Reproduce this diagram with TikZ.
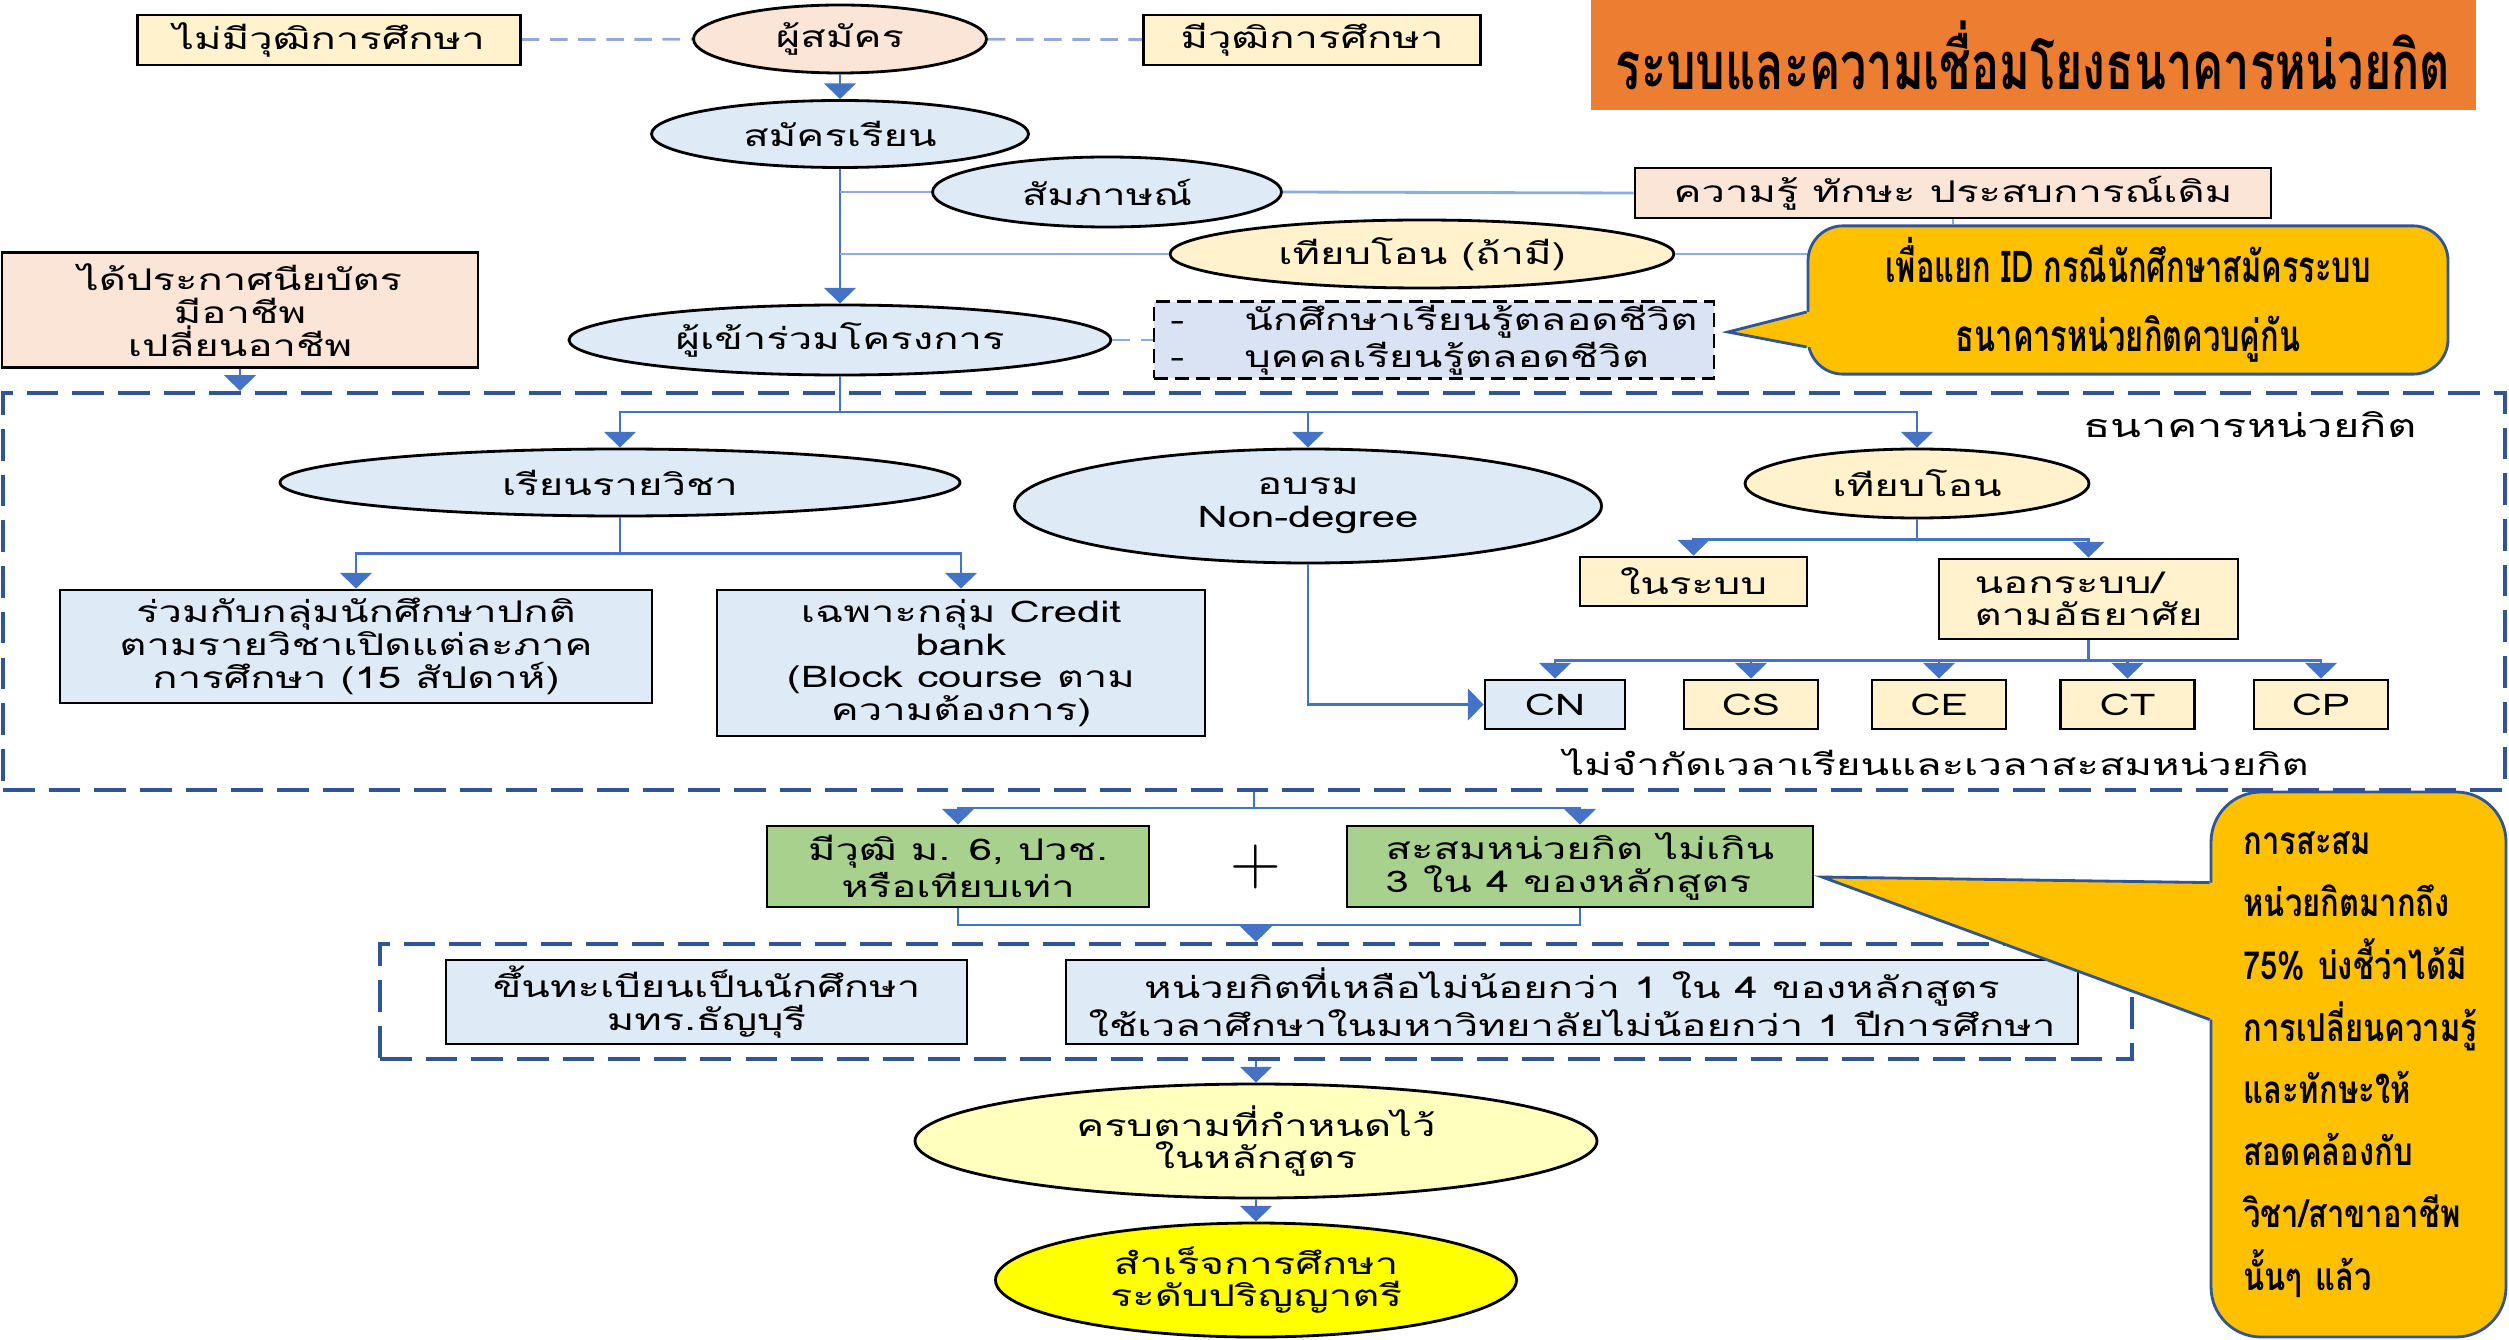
\documentclass[tikz,border=0pt]{standalone}
\usepackage{fontspec}
\setmainfont{Loma}[Script=Thai]
\newfontfamily\bodyfont{Loma}[Script=Thai, FakeStretch=1.4]
\newfontfamily\condfont{Loma}[Script=Thai, FakeStretch=0.7]
\newfontfamily\notefont{Loma}[Script=Thai, FakeStretch=0.8]
\newfontfamily\plusfont{Latin Modern Roman}
\usepackage{xcolor}
\usepackage{tikz}
\usetikzlibrary{shapes.geometric, arrows.meta, positioning}
\definecolor{boxyellow}{RGB}{255, 242, 204}
\definecolor{boxpeach}{RGB}{251, 229, 214}
\definecolor{boxblue}{RGB}{222, 235, 247}
\definecolor{boxlilac}{RGB}{218, 227, 243}
\definecolor{boxgreen}{RGB}{169, 209, 142}
\definecolor{titleorange}{RGB}{237, 125, 49}
\definecolor{noteyellow}{RGB}{255, 192, 0}
\definecolor{noteedge}{RGB}{47, 85, 151}
\definecolor{linkblue}{RGB}{68, 114, 196}
\definecolor{linklight}{RGB}{143, 170, 220}
\definecolor{framedash}{RGB}{47, 85, 151}
\definecolor{paleyellow}{RGB}{255, 255, 190}
\definecolor{brightyellow}{RGB}{255, 255, 0}
\newcommand{\bodytext}{\bodyfont\fontsize{8.5}{9.3}\selectfont}
\newcommand{\titletext}{\condfont\bfseries\fontsize{19}{22}\selectfont}
\newcommand{\calltext}{\condfont\bfseries\fontsize{12.5}{19.6}\selectfont}
\newcommand{\sidetext}{\notefont\bfseries\fontsize{11}{17.7}\selectfont}

\begin{document}
\begin{tikzpicture}[
    box/.style={rectangle, draw=black, thick, align=center, inner sep=1pt, font=\bodytext},
    oval/.style={ellipse, draw=black, thick, align=center, inner sep=0pt, font=\bodytext},
    arrow/.style={-{Triangle[width=9pt,length=4.5pt]}, thick, linkblue},
    link/.style={thick, linklight},
    dashlink/.style={thick, linklight, dash pattern=on 5pt off 3pt},
    frame/.style={draw=framedash, very thick, dash pattern=on 9pt off 4pt},
    note/.style={rectangle, rounded corners=0.35cm, draw=noteedge, thick, fill=noteyellow}
]
    \useasboundingbox (0,0) rectangle (25.09,-13.40);

    % Applicants
    \node[box, fill=boxyellow, minimum width=3.83cm, minimum height=0.50cm] (nodip) at (3.29,-0.40) {ไม่มีวุฒิการศึกษา};
    \node[oval, fill=boxpeach, minimum width=2.93cm, minimum height=0.68cm] (applicant) at (8.40,-0.39) {ผู้สมัคร};
    \node[box, fill=boxyellow, minimum width=3.37cm, minimum height=0.50cm] (hasdip) at (13.12,-0.40) {มีวุฒิการศึกษา};
    \node[fill=titleorange, minimum width=8.85cm, minimum height=1.10cm, font=\titletext] (title) at (20.33,-0.55) {ระบบและความเชื่อมโยงธนาคารหน่วยกิต};

    \node[oval, fill=boxblue, minimum width=3.77cm, minimum height=0.67cm] (enroll) at (8.40,-1.34) {สมัครเรียน};
    \node[oval, fill=boxblue, minimum width=3.49cm, minimum height=0.70cm] (interview) at (11.07,-1.92) {สัมภาษณ์};
    \node[box, fill=boxpeach, minimum width=6.36cm, minimum height=0.50cm] (prior) at (19.53,-1.93) {ความรู้ ทักษะ ประสบการณ์เดิม};
    \node[oval, fill=boxyellow, minimum width=5.04cm, minimum height=0.68cm] (transferif) at (14.22,-2.54) {เทียบโอน (ถ้ามี)};
    \node[oval, fill=boxblue, minimum width=5.42cm, minimum height=0.70cm] (participant) at (8.40,-3.40) {ผู้เข้าร่วมโครงการ};
    \node[box, dash pattern=on 4pt off 2pt, fill=boxlilac, minimum width=5.60cm, minimum height=0.75cm, align=left] (lifelong) at (14.34,-3.40) {-\hspace{0.6cm}นักศึกษาเรียนรู้ตลอดชีวิต\\-\hspace{0.6cm}บุคคลเรียนรู้ตลอดชีวิต};
    \node[box, fill=boxpeach, minimum width=4.76cm, minimum height=1.15cm] (cert) at (2.40,-3.10) {ได้ประกาศนียบัตร\\มีอาชีพ\\เปลี่ยนอาชีพ};

    % Credit bank
    \node[frame, minimum width=25.02cm, minimum height=3.97cm] (bank) at (12.54,-5.915) {};
    \node[font=\bodyfont\fontsize{9.2}{10}\selectfont, anchor=east] (banklabel) at (24.29,-4.25) {ธนาคารหน่วยกิต};
    \node[oval, fill=boxblue, minimum width=6.80cm, minimum height=0.67cm] (course) at (6.20,-4.825) {เรียนรายวิชา};
    \node[oval, fill=boxblue, minimum width=5.87cm, minimum height=1.14cm] (train) at (13.08,-5.06) {อบรม\\Non-degree};
    \node[oval, fill=boxyellow, minimum width=3.44cm, minimum height=0.69cm] (transfer) at (19.17,-4.835) {เทียบโอน};
    \node[box, fill=boxblue, minimum width=5.92cm, minimum height=1.13cm] (regular) at (3.56,-6.465) {ร่วมกับกลุ่มนักศึกษาปกติ\\ตามรายวิชาเปิดแต่ละภาค\\การศึกษา (15 สัปดาห์)};
    \node[box, fill=boxblue, minimum width=4.88cm, minimum height=1.46cm] (block) at (9.61,-6.63) {เฉพาะกลุ่ม Credit\\bank\\(Block course ตาม\\ความต้องการ)};
    \node[box, fill=boxyellow, minimum width=2.27cm, minimum height=0.49cm] (insys) at (16.935,-5.815) {ในระบบ};
    \node[box, fill=boxyellow, minimum width=2.99cm, minimum height=0.80cm, align=left] (outsys) at (20.885,-5.99) {นอกระบบ/\\ตามอัธยาศัย};
    \node[box, fill=boxblue, minimum width=1.40cm, minimum height=0.49cm] (cn) at (15.55,-7.045) {CN};
    \foreach \name/\label/\x in {cs/CS/17.51, ce/CE/19.39, ct/CT/21.275, cp/CP/23.21}
        \node[box, fill=boxyellow, minimum width=1.34cm, minimum height=0.49cm] (\name) at (\x,-7.045) {\label};
    \node[font=\bodytext] (nolimit) at (19.36,-7.62) {ไม่จำกัดเวลาเรียนและเวลาสะสมหน่วยกิต};

    % Graduation
    \node[box, fill=boxgreen, minimum width=3.82cm, minimum height=0.81cm] (qual) at (9.58,-8.665) {มีวุฒิ ม. 6, ปวช.\\หรือเทียบเท่า};
    \node[font=\plusfont\fontsize{20}{20}\selectfont] (plus) at (12.56,-8.67) {+};
    \node[box, fill=boxgreen, minimum width=4.66cm, minimum height=0.81cm, align=left] (accum) at (15.80,-8.665) {สะสมหน่วยกิต ไม่เกิน\\3 ใน 4 ของหลักสูตร};
    \node[frame, minimum width=17.52cm, minimum height=1.15cm] (study) at (12.56,-10.015) {};
    \node[box, fill=boxblue, minimum width=5.21cm, minimum height=0.84cm] (register) at (7.065,-10.02) {ขึ้นทะเบียนเป็นนักศึกษา\\มทร.ธัญบุรี};
    \node[box, fill=boxblue, minimum width=10.12cm, minimum height=0.84cm] (remain) at (15.72,-10.02) {หน่วยกิตที่เหลือไม่น้อยกว่า 1 ใน 4 ของหลักสูตร\\ใช้เวลาศึกษาในมหาวิทยาลัยไม่น้อยกว่า 1 ปีการศึกษา};
    \node[oval, fill=paleyellow, minimum width=6.82cm, minimum height=1.14cm] (complete) at (12.56,-11.41) {ครบตามที่กำหนดไว้\\ในหลักสูตร};
    \node[oval, fill=brightyellow, minimum width=5.21cm, minimum height=1.14cm] (grad) at (12.56,-12.80) {สำเร็จการศึกษา\\ระดับปริญญาตรี};

    % Connectors
    \draw[dashlink] (nodip) -- (applicant);
    \draw[dashlink] (applicant) -- (hasdip);
    \draw[arrow] (applicant) -- (enroll);
    \draw[arrow] (enroll) -- (participant);
    \coordinate (tap1) at (enroll.south |- interview.west);
    \coordinate (tap2) at (enroll.south |- transferif.west);
    \draw[link] (tap1) -- (interview.west);
    \draw[link] (interview.east) -- (prior.west);
    \draw[link] (tap2) -- (transferif.west);
    \draw[dashlink] (participant) -- (lifelong);
    \draw[arrow] (cert.south) -- (cert.south |- bank.north);

    \coordinate (split1) at (8.40,-4.12);
    \draw[linkblue, thick] (participant.south) -- (split1);
    \draw[arrow] (split1) -| (course.north);
    \draw[arrow] (split1) -| (train.north);
    \draw[arrow] (split1) -| (transfer.north);
    \coordinate (split2) at ([yshift=-0.36cm]course.south);
    \draw[arrow] (course.south) -- (split2) -| (regular.north);
    \draw[arrow] (split2) -| (block.north);
    \draw[arrow] (train.south) |- (cn.west);
    \coordinate (split3) at ([yshift=-0.20cm]transfer.south);
    \draw[arrow] (transfer.south) -- (split3) -| (insys.north);
    \draw[arrow] (split3) -| (outsys.north);
    \coordinate (split4) at ([yshift=-0.20cm]outsys.south);
    \draw[arrow] (outsys.south) -- (split4) -| (cn.north);
    \foreach \name in {cs, ce, ct, cp}
        \draw[arrow] (split4) -| (\name.north);

    \coordinate (split5) at (12.54,-8.08);
    \draw[arrow] (split5 |- bank.south) -- (split5) -| (qual.north);
    \draw[arrow] (split5) -| (accum.north);
    \coordinate (join1) at (12.56,-9.25);
    \draw[linkblue, thick] (qual.south) |- (join1);
    \draw[linkblue, thick] (accum.south) |- (join1);
    \draw[arrow] (join1) -- (study.north);
    \draw[arrow] (study.south) -- (complete.north);
    \draw[arrow] (complete.south) -- (grad.north);

    % Callouts
    \node[note, minimum width=6.40cm, minimum height=1.40cm, align=center, font=\calltext] (note1) at (21.28,-3.00) {เพื่อแยก ID กรณีนักศึกษาสมัครระบบ\\ธนาคารหน่วยกิตควบคู่กัน};
    \draw[link] (prior.south) -- (prior.south |- note1.north);
    \draw[link] (transferif.east) -- (transferif.east -| note1.west);
    \coordinate (tip1) at (17.28,-3.32);
    \fill[noteyellow] ([yshift=-0.12cm]note1.west) -- (tip1) -- ([yshift=-0.47cm]note1.west) -- ([shift={(0.06,-0.47)}]note1.west) -- ([shift={(0.06,-0.12)}]note1.west) -- cycle;
    \draw[noteedge, thick] ([yshift=-0.12cm]note1.west) -- (tip1) -- ([yshift=-0.47cm]note1.west);

    \node[note, rounded corners=0.5cm, minimum width=2.95cm, minimum height=5.45cm, text width=2.50cm, inner xsep=0.22cm, align=left, font=\sidetext] (note2) at (23.585,-10.645) {\hspace{0.1cm}การสะสม\\\hspace{0.1cm}หน่วยกิตมากถึง\\\hspace{0.1cm}75\% บ่งชี้ว่าได้มี\\\hspace{0.1cm}การเปลี่ยนความรู้\\\hspace{0.1cm}และทักษะให้\\\hspace{0.1cm}สอดคล้องกับ\\\hspace{0.1cm}วิชา/สาขาอาชีพ\\\hspace{0.1cm}นั้นๆ แล้ว};
    \coordinate (tip2) at (18.22,-8.77);
    \fill[noteyellow] ([yshift=-0.92cm]note2.north west) -- (tip2) -- ([yshift=-2.29cm]note2.north west) -- ([shift={(0.06,-2.29)}]note2.north west) -- ([shift={(0.06,-0.92)}]note2.north west) -- cycle;
    \draw[noteedge, thick] ([yshift=-0.92cm]note2.north west) -- (tip2) -- ([yshift=-2.29cm]note2.north west);
\end{tikzpicture}
\end{document}
